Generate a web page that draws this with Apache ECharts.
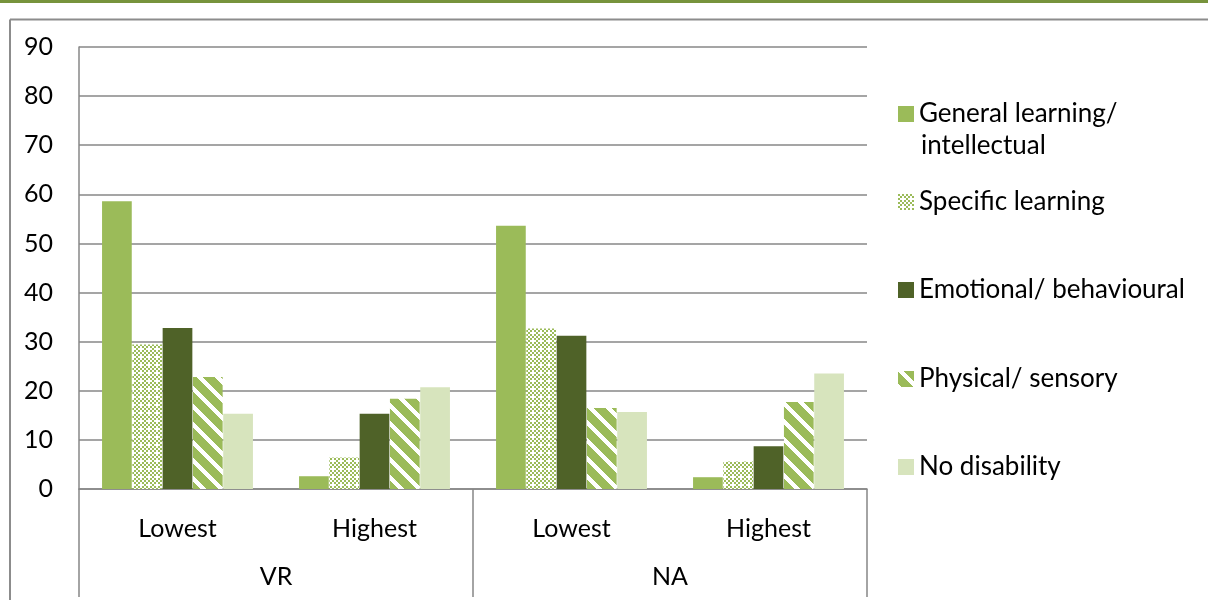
<!DOCTYPE html>
<html>
<head>
<meta charset="utf-8">
<script src="https://cdn.jsdelivr.net/npm/echarts@6/dist/echarts.min.js"></script>
<style>
  html, body { margin: 0; padding: 0; background: #fff; }
  #chart { width: 1208px; height: 600px; }
</style>
</head>
<body>
<div id="chart"></div>
<script>
// Category labels: inner level (band) and outer level (test)
const bandLabels = ['Lowest', 'Highest', 'Lowest', 'Highest'];
const testLabels = ['VR', 'NA'];

// Series names
const seriesNames = [
  'General learning/ intellectual',
  'Specific learning',
  'Emotional/ behavioural',
  'Physical/ sensory',
  'No disability'
];

// Percentages per band
const generalLearning  = [58.6, 2.6, 53.6, 2.4];
const specificLearning = [29.4, 6.4, 32.7, 5.6];
const emotional        = [32.8, 15.3, 31.2, 8.7];
const physical         = [22.8, 18.4, 16.5, 17.7];
const noDisability     = [15.3, 20.7, 15.7, 23.5];

const FONT = 'Lato';
const AXIS_SIZE = 25;
const LEGEND_SIZE = 26;
const GREEN = '#9bbb59';
const DARK = '#4f6228';
const PALE = '#d7e4bd';
const GRID_GRAY = '#878787';

// Build a tiled pattern from a per-pixel predicate
function makePattern(size, isInk, ink) {
  const c = document.createElement('canvas');
  c.width = size; c.height = size;
  const ctx = c.getContext('2d');
  ctx.fillStyle = '#ffffff';
  ctx.fillRect(0, 0, size, size);
  ctx.fillStyle = ink;
  for (let y = 0; y < size; y++) {
    for (let x = 0; x < size; x++) {
      if (isInk(x, y)) ctx.fillRect(x, y, 1, 1);
    }
  }
  return { image: c, repeat: 'repeat' };
}

// Small checker (dotted) fill
const checker = makePattern(8, (x, y) => {
  const i = Math.floor(x / 2), j = Math.floor(y / 2);
  if ((i + j) % 2 !== 0) return false;
  return !(i % 4 === 2 && j % 4 === 2);
}, GREEN);

// Wide downward diagonal stripes
const STRIPE = 18;
const stripes = makePattern(STRIPE, (x, y) => {
  const d = ((x - y) % STRIPE + STRIPE) % STRIPE;
  return d >= 6;
}, GREEN);

const fills = [GREEN, checker, DARK, stripes, PALE];
const values = [generalLearning, specificLearning, emotional, physical, noDisability];

const chart = echarts.init(document.getElementById('chart'), null, { renderer: 'canvas' });

const series = seriesNames.map((name, k) => ({
  name: name,
  type: 'bar',
  xAxisIndex: 0,
  yAxisIndex: 0,
  data: values[k],
  barGap: '2%',
  barCategoryGap: '23.4%',
  itemStyle: { color: fills[k] },
  emphasis: { disabled: true }
}));

// One legend block per series so the spacing follows the stacked layout
const legendCenters = [114, 202, 290, 379, 467];
const legends = seriesNames.map((name, k) => ({
  data: [name],
  left: 898,
  top: legendCenters[k] - 15,
  padding: 0,
  icon: 'rect',
  itemWidth: 16,
  itemHeight: 16,
  selectedMode: false,
  formatter: n => (n === seriesNames[0] ? 'General learning/' : n),
  textStyle: { fontFamily: FONT, fontSize: LEGEND_SIZE, color: '#000', lineHeight: 30 }
}));

const option = {
  animation: false,
  backgroundColor: '#ffffff',
  grid: { left: 79, right: 341, top: 47, bottom: 111, containLabel: false },
  legend: legends,
  xAxis: [
    {
      type: 'category',
      data: bandLabels,
      position: 'bottom',
      axisLine: { show: true, lineStyle: { color: GRID_GRAY, width: 1.6 } },
      axisTick: { show: false },
      axisLabel: { interval: 0, margin: 27, fontFamily: FONT, fontSize: AXIS_SIZE, color: '#000' },
      splitLine: { show: false }
    },
    {
      type: 'category',
      data: testLabels,
      position: 'bottom',
      axisLine: { show: false },
      axisTick: { show: true, length: 108, lineStyle: { color: GRID_GRAY, width: 1.5 } },
      axisLabel: { interval: 0, margin: 75, fontFamily: FONT, fontSize: AXIS_SIZE, color: '#000' },
      splitLine: { show: false }
    }
  ],
  yAxis: {
    type: 'value',
    min: 0,
    max: 90,
    interval: 10,
    axisLine: { show: true, lineStyle: { color: GRID_GRAY, width: 1.5 } },
    axisTick: { show: false },
    axisLabel: { margin: 26, fontFamily: FONT, fontSize: AXIS_SIZE, color: '#000' },
    splitLine: { show: true, lineStyle: { color: GRID_GRAY, width: 1.6 } }
  },
  series: series,
  graphic: [
    // accent bar across the top
    { type: 'rect', shape: { x: 0, y: 0, width: 1208, height: 3 }, style: { fill: '#77933c' }, silent: true },
    // chart frame
    { type: 'line', shape: { x1: 10, y1: 19.5, x2: 1208, y2: 19.5 }, style: { stroke: '#8c8c8c', lineWidth: 2 }, silent: true },
    { type: 'line', shape: { x1: 10, y1: 19.5, x2: 10, y2: 600 }, style: { stroke: '#8c8c8c', lineWidth: 2 }, silent: true },
    // second line of the first legend entry
    {
      type: 'text', left: 921, top: 133,
      style: { text: 'intellectual', font: LEGEND_SIZE + 'px ' + FONT, fill: '#000' },
      silent: true
    }
  ]
};

chart.setOption(option);
</script>
</body>
</html>
